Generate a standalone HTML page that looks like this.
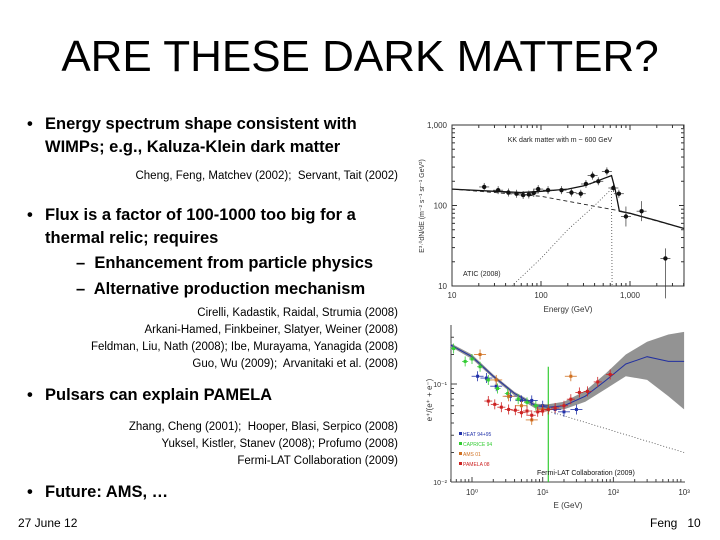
<!DOCTYPE html>
<html><head><meta charset="utf-8">
<style>
body{margin:0;width:720px;height:540px;background:#fff;position:relative;overflow:hidden;font-family:"Liberation Sans",sans-serif;color:#000}
.t{position:absolute;white-space:nowrap}
.b{font-weight:bold;font-size:16.5px;line-height:23px}
.c{font-size:11.5px;line-height:17px;text-align:right;right:322px}
</style></head><body>
<div class="t" style="left:0;width:720px;text-align:center;top:32px;font-size:44px">ARE THESE DARK MATTER?</div>

<div class="t b" style="left:27px;top:113px">•</div>
<div class="t b" style="left:45px;top:113px">Energy spectrum shape consistent with<br>WIMPs; e.g., Kaluza-Klein dark matter</div>
<div class="t c" style="top:168px">Cheng, Feng, Matchev (2002);&nbsp; Servant, Tait (2002)</div>

<div class="t b" style="left:27px;top:204px">•</div>
<div class="t b" style="left:45px;top:204px">Flux is a factor of 100-1000 too big for a<br>thermal relic; requires</div>
<div class="t b" style="left:76px;top:252px">–&nbsp; Enhancement from particle physics</div>
<div class="t b" style="left:76px;top:278px">–&nbsp; Alternative production mechanism</div>
<div class="t c" style="top:305px">Cirelli, Kadastik, Raidal, Strumia (2008)<br>Arkani-Hamed, Finkbeiner, Slatyer, Weiner (2008)<br>Feldman, Liu, Nath (2008); Ibe, Murayama, Yanagida (2008)<br>Guo, Wu (2009);&nbsp; Arvanitaki et al. (2008)</div>

<div class="t b" style="left:27px;top:384px">•</div>
<div class="t b" style="left:45px;top:384px">Pulsars can explain PAMELA</div>
<div class="t c" style="top:419px">Zhang, Cheng (2001);&nbsp; Hooper, Blasi, Serpico (2008)<br>Yuksel, Kistler, Stanev (2008); Profumo (2008)<br>Fermi-LAT Collaboration (2009)</div>

<div class="t b" style="left:27px;top:481px">•</div>
<div class="t b" style="left:45px;top:481px">Future: AMS, …</div>

<div class="t" style="left:18px;top:516px;font-size:12px">27 June 12</div>
<div class="t" style="left:650px;top:516px;font-size:12px">Feng&nbsp;&nbsp;&nbsp;10</div>

<svg id="atic" width="720" height="540" style="position:absolute;left:0;top:0" font-family="Liberation Sans,sans-serif"></svg>

<script>
// ATIC chart data
const aticE=[23,33,43,53,63,73,83,93,120,170,220,280,320,380,440,550,650,750,900,1350,2500];
const aticFlux=[170,155,145,140,135,137,143,160,155,155,145,140,185,235,200,265,165,140,73,85,22];
const totalE=[10,30,60,100,200,300,400,500,620,680,760,1000,2000,4000];
const totalF=[160,150,145,150,160,175,195,215,235,160,85,80,65,52];
const bgE=[10,100,800,4000];
const bgF=[160,130,85,52];
const sigE=[47,100,200,400,620,630];
const sigF=[10,22,50,100,160,10];
const aticYTicks=["10","100","1,000"];
const aticXTicks=["10","100","1,000"];

// Fermi chart data
const pamE=[1.7,2.1,2.6,3.3,4.1,5,6,7,8.5,10,12,15,20,25,33,43,60,90];
const pamF=[0.067,0.062,0.058,0.055,0.054,0.051,0.053,0.048,0.052,0.053,0.055,0.057,0.06,0.07,0.082,0.084,0.105,0.125];
const capE=[0.55,0.8,1,1.3,1.7,2.3,3.2,4.5,6,8,12];
const capF=[0.23,0.17,0.18,0.15,0.11,0.09,0.08,0.07,0.065,0.06,0.055];
const amsE=[1.3,2.2,3.3,5,7,10,25];
const amsF=[0.2,0.11,0.075,0.06,0.043,0.055,0.12];
const heatE2=[1.2,1.6,2.2,3.5,5,7,10,15,20,30];
const heatF2=[0.12,0.115,0.095,0.075,0.068,0.068,0.06,0.055,0.052,0.055];
const modelE=[0.5,1,2,4,8,12,20,40,80,150,300,600,1000];
const modelF=[0.25,0.19,0.12,0.08,0.06,0.058,0.06,0.075,0.11,0.16,0.19,0.17,0.17];
const bandHiF=[0.26,0.2,0.125,0.083,0.063,0.062,0.066,0.085,0.13,0.2,0.27,0.32,0.34];
const bandLoF=[0.24,0.18,0.115,0.076,0.056,0.054,0.055,0.066,0.09,0.12,0.11,0.075,0.055];
const secE=[10,1000];
const secF=[0.055,0.02];
const fermiXTicks=["10⁰","10¹","10²","10³"];

const NS="http://www.w3.org/2000/svg";
const svg=document.getElementById('atic');
function mk(tag,attrs,parent){const e=document.createElementNS(NS,tag);for(const k in attrs)e.setAttribute(k,attrs[k]);(parent||svg).appendChild(e);return e;}

// ---- ATIC axes
const ax=e=>452+(Math.log10(e)-1)*89;
const ay=f=>286-(Math.log10(f)-1)*80.5;
const g1=mk('g',{});


mk('rect',{x:452,y:125,width:232,height:161,fill:'none',stroke:'#333','stroke-width':1},g1);
for(let d=1;d<=3;d++)for(let m=1;m<10;m++){const v=Math.pow(10,d)*m;if(v>4000)break;const x=ax(v);const l=m==1?5:3;
 mk('line',{x1:x,y1:286,x2:x,y2:286-l,stroke:'#333'},g1);mk('line',{x1:x,y1:125,x2:x,y2:125+l,stroke:'#333'},g1);}
for(let d=1;d<3;d++)for(let m=1;m<10;m++){const y=ay(Math.pow(10,d)*m);const l=m==1?5:3;
 mk('line',{x1:452,y1:y,x2:452+l,y2:y,stroke:'#333'},g1);mk('line',{x1:684,y1:y,x2:684-l,y2:y,stroke:'#333'},g1);}
aticYTicks.forEach((t,i)=>{const e=mk('text',{x:447,y:ay(Math.pow(10,i+1))+3,'font-size':8,'text-anchor':'end',fill:'#333'},g1);e.textContent=t;
 });
aticXTicks.forEach((t,i)=>{const e=mk('text',{x:ax(Math.pow(10,i+1)),y:298,'font-size':8,'text-anchor':'middle',fill:'#333'},g1);e.textContent=t;
 });
let tt=mk('text',{x:568,y:312,'font-size':8,'text-anchor':'middle',fill:'#333'},g1);tt.textContent='Energy (GeV)';

tt=mk('text',{x:0,y:0,'font-size':7,'text-anchor':'middle',fill:'#333',transform:'translate(424,206) rotate(-90)'},g1);tt.textContent='E³·⁰dN/dE (m⁻² s⁻¹ sr⁻¹ GeV²)';

tt=mk('text',{x:560,y:142,'font-size':7,'text-anchor':'middle',fill:'#222'},g1);tt.textContent='KK dark matter with m ~ 600 GeV';

tt=mk('text',{x:463,y:276,'font-size':7,fill:'#222'},g1);tt.textContent='ATIC (2008)';

const pl=(E,F,X,Y)=>E.map((e,i)=>X(e).toFixed(1)+','+Y(F[i]).toFixed(1)).join(' ');
let p=mk('polyline',{points:pl(totalE,totalF,ax,ay),fill:'none',stroke:'#111','stroke-width':1.3},g1);

p=mk('polyline',{points:pl(bgE,bgF,ax,ay),fill:'none',stroke:'#222','stroke-width':0.9,'stroke-dasharray':'4,3'},g1);

p=mk('polyline',{points:pl(sigE,sigF,ax,ay),fill:'none',stroke:'#444','stroke-width':0.8,'stroke-dasharray':'1,2'},g1);

aticE.forEach((e,i)=>{const x=ax(e),y=ay(aticFlux[i]);
 mk('line',{x1:x-5,y1:y,x2:x+5,y2:y,stroke:'#333','stroke-width':0.7},g1);
 const err=i>=18?10:4;mk('line',{x1:x,y1:y-err,x2:x,y2:y+err*(i==20?4:1),stroke:'#333','stroke-width':0.7},g1);
 const c=mk('circle',{cx:x,cy:y,r:2.2,fill:'#111'},g1);
 });

// ---- Fermi axes
const fx=e=>472+Math.log10(e)*70.7;
const fy=f=>384-(Math.log10(f)+1)*98;
const g2=mk('g',{});


mk('line',{x1:451,y1:325,x2:451,y2:482,stroke:'#444'},g2);
mk('line',{x1:451,y1:482,x2:685,y2:482,stroke:'#444'},g2);
for(let d=-1;d<=2;d++)for(let m=1;m<10;m++){const v=Math.pow(10,d)*m;if(v<0.5)continue;const x=fx(v);mk('line',{x1:x,y1:482,x2:x,y2:482-(m==1?5:3),stroke:'#444'},g2);}
[0.02,0.03,0.04,0.05,0.06,0.07,0.08,0.09,0.1,0.2,0.3].forEach(v=>{const y=fy(v);mk('line',{x1:451,y1:y,x2:v==0.1?457:454,y2:y,stroke:'#444'},g2);});
let yl=mk('text',{x:447,y:387,'font-size':7,'text-anchor':'end',fill:'#333'},g2);yl.textContent='10⁻¹';
yl=mk('text',{x:447,y:485,'font-size':7,'text-anchor':'end',fill:'#333'},g2);yl.textContent='10⁻²';
fermiXTicks.forEach((t,i)=>{const e=mk('text',{x:fx(Math.pow(10,i)),y:495,'font-size':8,'text-anchor':'middle',fill:'#333'},g2);e.textContent=t;
 });
tt=mk('text',{x:568,y:508,'font-size':8,'text-anchor':'middle',fill:'#333'},g2);tt.textContent='E  (GeV)';

tt=mk('text',{x:0,y:0,'font-size':8,'text-anchor':'middle',fill:'#333',transform:'translate(432,400) rotate(-90)'},g2);tt.textContent='e⁺/(e⁺ + e⁻)';

const band=modelE.map((e,i)=>fx(e).toFixed(1)+','+fy(bandHiF[i]).toFixed(1)).concat(modelE.slice().reverse().map((e,j)=>{const i=modelE.length-1-j;return fx(e).toFixed(1)+','+fy(bandLoF[i]).toFixed(1);})).join(' ');
p=mk('polygon',{points:band,fill:'#808080',opacity:0.85},g2);

p=mk('polyline',{points:pl(secE,secF,fx,fy),fill:'none',stroke:'#333','stroke-width':0.7,'stroke-dasharray':'1,2'},g2);

p=mk('polyline',{points:pl(modelE,modelF,fx,fy),fill:'none',stroke:'#2230a0','stroke-width':1},g2);

mk('line',{x1:fx(12),y1:fy(0.15),x2:fx(12),y2:482,stroke:'#3c3',"stroke-width":1.2},g2);
function pts(E,F,col,name,ex){E.forEach((e,i)=>{const x=fx(e),y=fy(F[i]);
 mk('line',{x1:x-ex,y1:y,x2:x+ex,y2:y,stroke:col,'stroke-width':0.8},g2);
 mk('line',{x1:x,y1:y-5,x2:x,y2:y+5,stroke:col,'stroke-width':0.8},g2);
 const r=mk('rect',{x:x-1.5,y:y-1.5,width:3,height:3,fill:col},g2);
 });}
pts(heatE2,heatF2,'#2233aa','heat-point',6);
pts(capE,capF,'#33cc33','caprice-point',3);
pts(amsE,amsF,'#d07020','ams-point',6);
pts(pamE,pamF,'#cc2222','pamela-point',4);
const leg=[['HEAT 94+95','#2233aa'],['CAPRICE 94','#33cc33'],['AMS 01','#d07020'],['PAMELA 08','#cc2222']];
leg.forEach((l,i)=>{const y=436+i*10;mk('rect',{x:459,y:y-4,width:3,height:3,fill:l[1]},g2);
 const e=mk('text',{x:463,y:y,'font-size':5,fill:l[1]},g2);e.textContent=l[0];
 });
tt=mk('text',{x:537,y:475,'font-size':7,fill:'#111'},g2);tt.textContent='Fermi-LAT Collaboration (2009)';

</script>
</body></html>
